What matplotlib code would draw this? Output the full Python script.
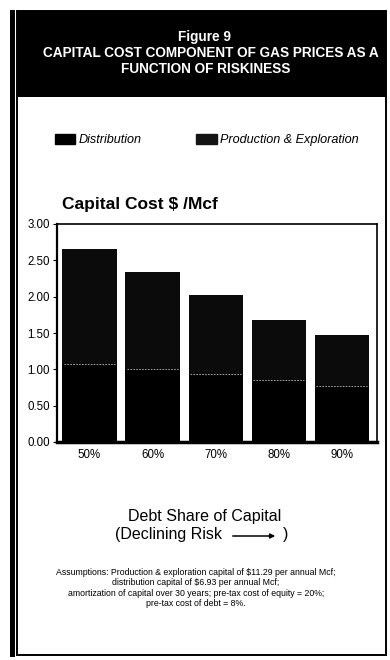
import numpy as np
import matplotlib
matplotlib.use("Agg")
import matplotlib.pyplot as plt
from matplotlib.patches import Rectangle, Patch, FancyArrowPatch

plt.rcParams['font.family'] = ['Liberation Sans', 'DejaVu Sans']

# capital cost per Mcf, split by component
debt_share = ['50%', '60%', '70%', '80%', '90%']
distribution = [1.08, 1.01, 0.93, 0.85, 0.77]
production = [1.57, 1.33, 1.09, 0.83, 0.70]
yticks = [0.0, 0.5, 1.0, 1.5, 2.0, 2.5, 3.0]

W, H = 390, 660


def fx(px):
    return px / W


def fy(py):
    return 1 - py / H


fig = plt.figure(figsize=(W / 100, H / 100), dpi=100)

# page frame and black header band
fig.patches.append(Rectangle((fx(10), fy(657)), fx(5), 647 / H, transform=fig.transFigure,
                             color='black', lw=0))
fig.patches.append(Rectangle((fx(17), fy(655)), fx(369), 644 / H, transform=fig.transFigure,
                             fill=False, ec='black', lw=1.4))
fig.patches.append(Rectangle((fx(17), fy(97)), fx(369), 86 / H, transform=fig.transFigure,
                             color='black', lw=0))

fig.text(fx(204), fy(37), 'Figure 9', color='white', fontsize=9.8, fontweight='bold',
         ha='center', va='center')
fig.text(fx(211), fy(53), 'CAPITAL COST COMPONENT OF GAS PRICES AS A', color='white',
         fontsize=9.8, fontweight='bold', ha='center', va='center')
fig.text(fx(206), fy(69), 'FUNCTION OF RISKINESS', color='white', fontsize=9.8,
         fontweight='bold', ha='center', va='center')

# legend
handles = [Patch(facecolor='black', edgecolor='black', label='Distribution'),
           Patch(facecolor='#141414', edgecolor='#141414', label='Production & Exploration')]
fig.legend(handles=handles, loc='center left', bbox_to_anchor=(fx(55), fy(140)), ncol=2,
           frameon=False, prop={'style': 'italic', 'size': 9.1}, handlelength=1.6,
           handleheight=0.8, handletextpad=0.3, columnspacing=4.3, borderpad=0,
           borderaxespad=0)

fig.text(fx(62), fy(205), 'Capital Cost \\$ /Mcf', fontsize=12.5, fontweight='bold',
         ha='left', va='center')

ax = fig.add_axes([fx(57), fy(442), fx(320), (442 - 224) / H])
x = np.arange(len(debt_share))
w = 0.86
ax.bar(x, distribution, width=w, color='black', lw=0)
ax.bar(x, production, width=w, bottom=distribution, color='#0b0b0b', lw=0)
ax.hlines(distribution, x - w / 2 + 0.03, x + w / 2 - 0.03, colors='#bdbdbd',
          linestyles=(0, (2, 1.5)), lw=0.6)

ax.set_xlim(-0.516, 4.56)
ax.set_ylim(0, 3.0)
ax.set_yticks(yticks)
ax.set_yticklabels([f'{v:.2f}' for v in yticks], fontsize=8.3)
ax.set_xticks(x)
ax.set_xticklabels(debt_share, fontsize=8.3)
ax.tick_params(axis='y', length=3, width=0.8, pad=2)
ax.tick_params(axis='x', length=0, pad=5)
ax.spines['left'].set_linewidth(1.6)
ax.spines['bottom'].set_linewidth(2.5)
ax.spines['top'].set_linewidth(1.2)
ax.spines['right'].set_linewidth(1.2)

fig.text(fx(205), fy(517), 'Debt Share of Capital', fontsize=11.5, ha='center', va='center')
fig.text(fx(115), fy(535), '(Declining Risk', fontsize=11.5, ha='left', va='center')
fig.text(fx(283), fy(535), ')', fontsize=11.5, ha='left', va='center')
fig.add_artist(FancyArrowPatch(
    (fx(230), fy(536)), (fx(278), fy(536)), transform=fig.transFigure,
    arrowstyle='-|>', mutation_scale=7, lw=1.1, color='black'))

notes = ('Assumptions: Production & exploration capital of \\$11.29 per annual Mcf;\n'
         'distribution capital of \\$6.93 per annual Mcf;\n'
         'amortization of capital over 30 years; pre-tax cost of equity = 20%;\n'
         'pre-tax cost of debt = 8%.')
fig.text(fx(196), fy(588), notes, fontsize=6.3, ha='center', va='center',
         multialignment='center', linespacing=1.15)

fig.savefig('out.png', dpi=100)
